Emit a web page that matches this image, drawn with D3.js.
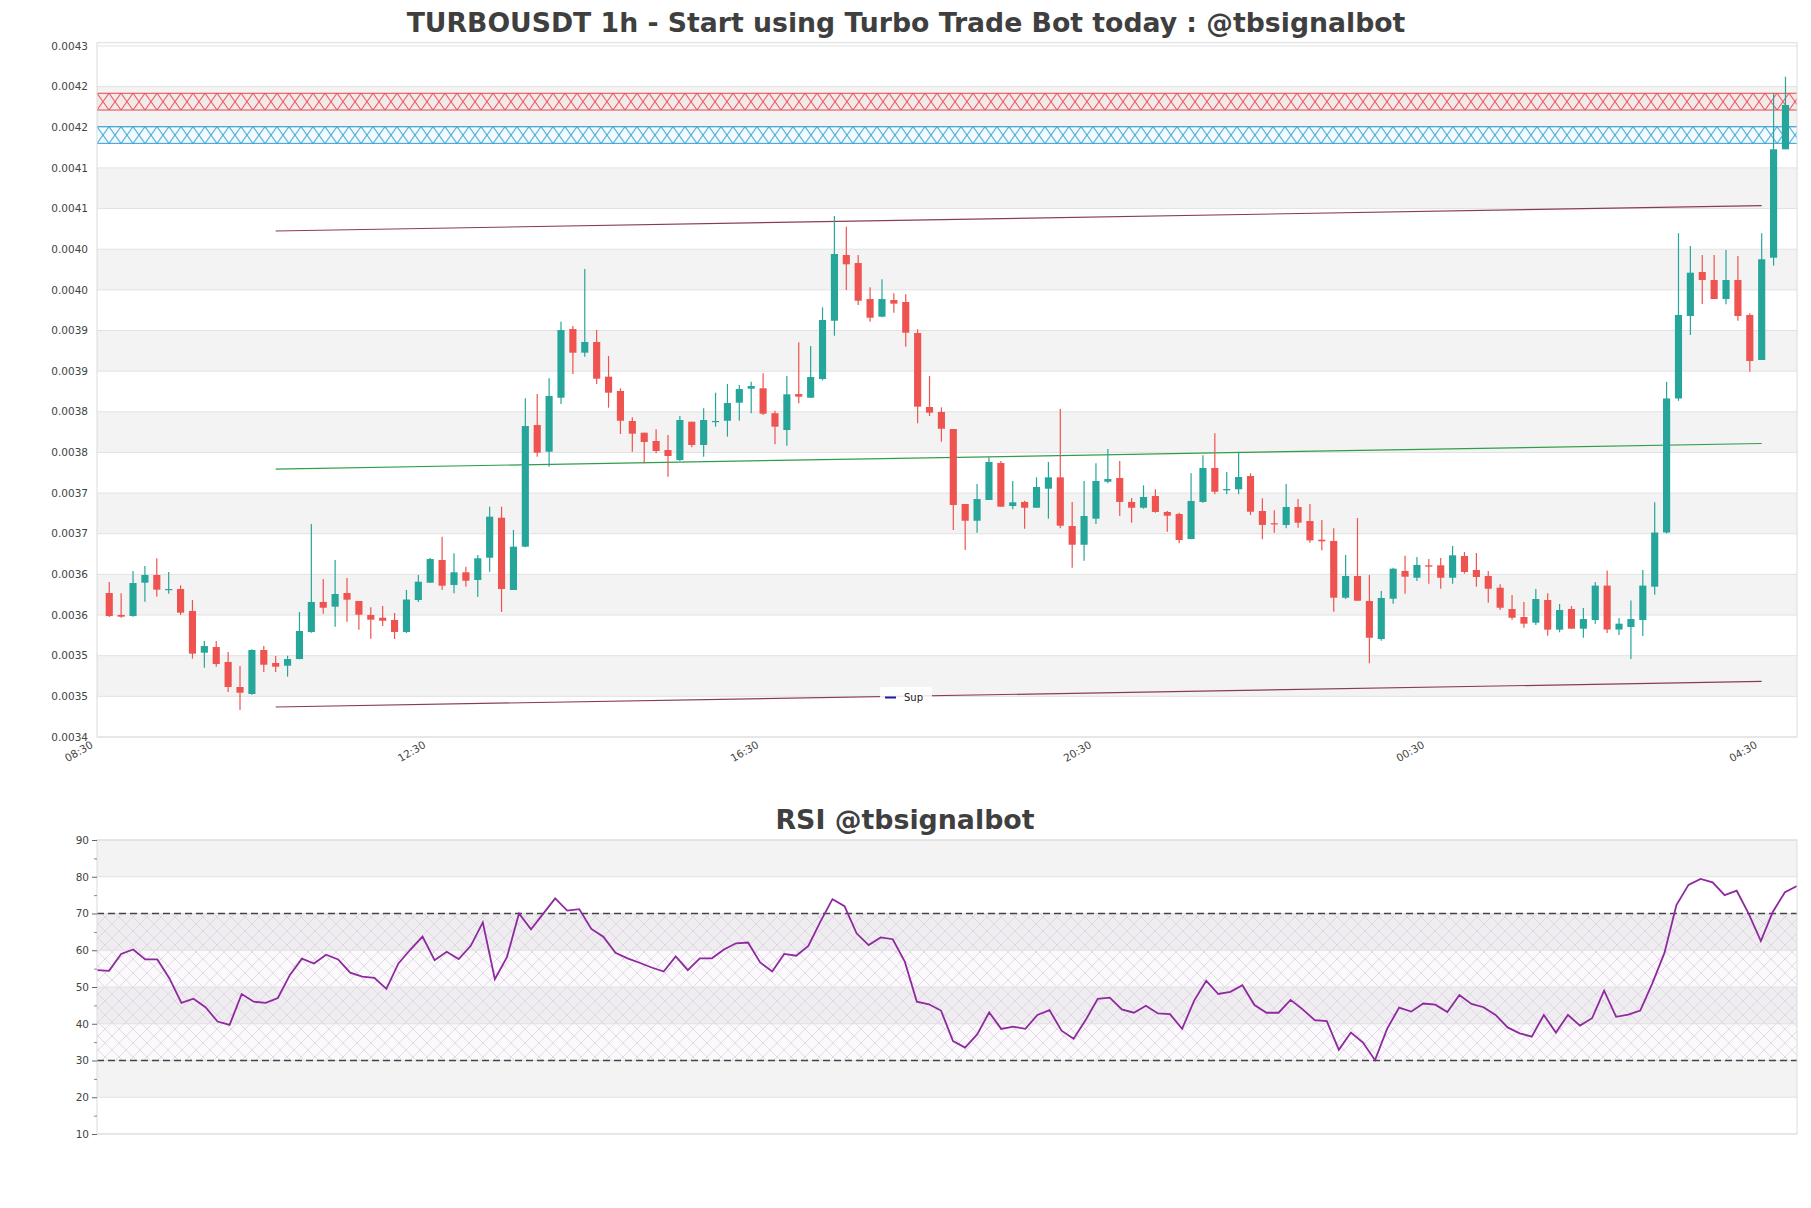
<!DOCTYPE html>
<html><head><meta charset="utf-8">
<script src="https://cdn.jsdelivr.net/npm/d3@7"></script>
<style>body{margin:0;background:#fff;} svg{display:block;font-family:"DejaVu Sans",sans-serif;}</style>
</head><body><svg id="c" width="1811" height="1208"></svg>
<script>
const opens = [0.0035771,0.0035501,0.0035488,0.0035898,0.0035993,0.0035814,0.0035820,0.0035550,0.0035037,0.0035107,
0.0034923,0.0034615,0.0034529,0.0035070,0.0034910,0.0034877,0.0034959,0.0035292,0.0035661,0.0035603,
0.0035771,0.0035673,0.0035501,0.0035467,0.0035439,0.0035292,0.0035685,0.0035898,0.0036177,0.0035870,
0.0036026,0.0035931,0.0036205,0.0036697,0.0035808,0.0036341,0.0037838,0.0037509,0.0038173,0.0039018,
0.0038727,0.0038859,0.0038432,0.0038256,0.0037887,0.0037743,0.0037641,0.0037530,0.0037407,0.0037878,
0.0037592,0.0037875,0.0037890,0.0038112,0.0038284,0.0038289,0.0037982,0.0037776,0.0038219,0.0038173,
0.0038403,0.0039120,0.0039929,0.0039830,0.0039387,0.0039170,0.0039375,0.0039351,0.0038969,0.0038059,
0.0037998,0.0037788,0.0036866,0.0036660,0.0036915,0.0037370,0.0036841,0.0036891,0.0036820,0.0037054,
0.0037194,0.0036595,0.0036365,0.0036685,0.0037140,0.0037186,0.0036891,0.0036820,0.0036964,0.0036768,
0.0036743,0.0036435,0.0036891,0.0037309,0.0037034,0.0037047,0.0037210,0.0036780,0.0036629,0.0036608,
0.0036829,0.0036657,0.0036427,0.0036411,0.0035713,0.0035980,0.0035673,0.0035205,0.0035701,0.0036042,
0.0035959,0.0036112,0.0036112,0.0035959,0.0036226,0.0036054,0.0035980,0.0035836,0.0035574,0.0035476,
0.0035406,0.0035685,0.0035320,0.0035574,0.0035332,0.0035439,0.0035862,0.0035322,0.0035353,0.0035439,
0.0035849,0.0036515,0.0038164,0.0039178,0.0039720,0.0039621,0.0039387,0.0039621,0.0039191,0.0038637,
0.0039895,0.0041229];
const highs = [0.0035907,0.0035768,0.0036042,0.0036103,0.0036198,0.0036030,0.0035866,0.0035685,0.0035181,0.0035181,
0.0035046,0.0034873,0.0035079,0.0035119,0.0034996,0.0035000,0.0035538,0.0036620,0.0035943,0.0036177,
0.0035956,0.0035673,0.0035595,0.0035611,0.0035525,0.0035808,0.0035993,0.0036202,0.0036464,0.0036260,
0.0036095,0.0036239,0.0036833,0.0036833,0.0036546,0.0038166,0.0038219,0.0038412,0.0039108,0.0039055,
0.0039756,0.0039006,0.0038686,0.0038289,0.0037932,0.0037743,0.0037785,0.0037715,0.0037948,0.0037878,
0.0038043,0.0038235,0.0038342,0.0038330,0.0038370,0.0038474,0.0038013,0.0038440,0.0038855,0.0038809,
0.0039285,0.0040408,0.0040277,0.0039929,0.0039531,0.0039630,0.0039458,0.0039445,0.0039015,0.0038440,
0.0038055,0.0037788,0.0036866,0.0037112,0.0037440,0.0037395,0.0037149,0.0036906,0.0037194,0.0037383,
0.0038034,0.0036891,0.0037149,0.0037367,0.0037542,0.0037395,0.0036940,0.0037096,0.0037047,0.0036780,
0.0036759,0.0037244,0.0037465,0.0037736,0.0037260,0.0037509,0.0037244,0.0036936,0.0036788,0.0037112,
0.0036927,0.0036866,0.0036669,0.0036567,0.0036239,0.0036694,0.0035993,0.0035796,0.0036082,0.0036230,
0.0036214,0.0036189,0.0036202,0.0036349,0.0036276,0.0036263,0.0036042,0.0035878,0.0035747,0.0035661,
0.0035820,0.0035768,0.0035636,0.0035611,0.0035587,0.0035907,0.0036047,0.0035464,0.0035678,0.0036054,
0.0036886,0.0038367,0.0040196,0.0040039,0.0039929,0.0039929,0.0039990,0.0039916,0.0039212,0.0040196,
0.0041918,0.0042122];
const lows = [0.0035476,0.0035467,0.0035480,0.0035664,0.0035726,0.0035763,0.0035501,0.0034963,0.0034852,0.0034865,
0.0034554,0.0034332,0.0034520,0.0034800,0.0034800,0.0034742,0.0034956,0.0035283,0.0035517,0.0035357,
0.0035418,0.0035320,0.0035209,0.0035365,0.0035205,0.0035279,0.0035661,0.0035894,0.0035808,0.0035768,
0.0035849,0.0035722,0.0036033,0.0035538,0.0035808,0.0036333,0.0037448,0.0037325,0.0038096,0.0038465,
0.0038678,0.0038342,0.0038050,0.0037727,0.0037509,0.0037366,0.0037490,0.0037202,0.0037395,0.0037563,
0.0037448,0.0037817,0.0037694,0.0037890,0.0037982,0.0037961,0.0037600,0.0037583,0.0038105,0.0038173,
0.0038387,0.0038936,0.0039498,0.0039314,0.0039108,0.0039162,0.0039219,0.0038801,0.0037859,0.0037948,
0.0037632,0.0036546,0.0036300,0.0036513,0.0036915,0.0036833,0.0036801,0.0036562,0.0036820,0.0036685,
0.0036567,0.0036082,0.0036168,0.0036620,0.0037121,0.0036718,0.0036636,0.0036808,0.0036759,0.0036525,
0.0036383,0.0036432,0.0036882,0.0036985,0.0036985,0.0036985,0.0036731,0.0036432,0.0036513,0.0036567,
0.0036574,0.0036390,0.0036296,0.0035541,0.0035697,0.0035676,0.0034907,0.0035184,0.0035640,0.0035763,
0.0035919,0.0035886,0.0035824,0.0035886,0.0036009,0.0035849,0.0035652,0.0035562,0.0035443,0.0035344,
0.0035378,0.0035246,0.0035288,0.0035332,0.0035221,0.0035394,0.0035279,0.0035255,0.0034959,0.0035242,
0.0035749,0.0036502,0.0038135,0.0038945,0.0039326,0.0039387,0.0039322,0.0039120,0.0038493,0.0038637,
0.0039797,0.0041229];
const closes = [0.0035488,0.0035480,0.0035894,0.0035993,0.0035812,0.0035820,0.0035529,0.0035025,0.0035119,0.0034898,
0.0034615,0.0034545,0.0035070,0.0034889,0.0034865,0.0034959,0.0035304,0.0035661,0.0035590,0.0035759,
0.0035689,0.0035504,0.0035443,0.0035430,0.0035292,0.0035691,0.0035910,0.0036189,0.0035861,0.0036026,
0.0035922,0.0036198,0.0036710,0.0035820,0.0036341,0.0037825,0.0037497,0.0038194,0.0039006,0.0038727,
0.0038859,0.0038407,0.0038235,0.0037890,0.0037731,0.0037629,0.0037518,0.0037456,0.0037899,0.0037592,
0.0037899,0.0037887,0.0038108,0.0038280,0.0038317,0.0037977,0.0037817,0.0038215,0.0038186,0.0038428,
0.0039129,0.0039941,0.0039814,0.0039366,0.0039157,0.0039387,0.0039330,0.0038973,0.0038063,0.0037989,
0.0037792,0.0036854,0.0036660,0.0036927,0.0037383,0.0036833,0.0036887,0.0036820,0.0037075,0.0037194,
0.0036599,0.0036365,0.0036718,0.0037149,0.0037173,0.0036891,0.0036820,0.0036952,0.0036768,0.0036722,
0.0036423,0.0036903,0.0037309,0.0037017,0.0037050,0.0037198,0.0036771,0.0036608,0.0036616,0.0036829,
0.0036636,0.0036419,0.0036407,0.0035713,0.0035980,0.0035676,0.0035221,0.0035710,0.0036070,0.0035972,
0.0036116,0.0036095,0.0035959,0.0036235,0.0036030,0.0035968,0.0035824,0.0035590,0.0035467,0.0035394,
0.0035697,0.0035320,0.0035562,0.0035332,0.0035451,0.0035862,0.0035322,0.0035394,0.0035451,0.0035862,
0.0036515,0.0038164,0.0039191,0.0039711,0.0039621,0.0039387,0.0039621,0.0039178,0.0038625,0.0039876,
0.0041229,0.0041774];
const rsi = [54.6,54.4,59.0,60.2,57.5,57.5,52.4,45.7,46.8,44.5,
40.6,39.7,48.1,46.0,45.7,47.0,53.3,57.7,56.4,58.8,
57.5,53.9,52.8,52.5,49.5,56.4,60.2,63.7,57.3,59.6,
57.6,61.2,67.6,52.1,58.1,70.0,65.7,69.9,74.1,70.8,
71.2,65.8,63.7,59.3,57.8,56.6,55.3,54.2,58.3,54.6,
57.8,57.8,60.2,61.9,62.1,56.7,54.2,59.0,58.5,61.2,
67.8,73.9,72.0,64.6,61.4,63.5,63.0,56.9,46.0,45.3,
43.6,35.3,33.5,37.1,43.1,38.6,39.2,38.6,42.4,43.7,
38.1,35.9,41.0,46.8,47.1,43.9,43.0,44.9,42.8,42.6,
38.6,46.3,51.7,48.1,48.7,50.5,45.1,43.0,43.0,46.5,
43.9,41.0,40.7,32.9,37.6,34.9,30.1,38.6,44.4,43.3,
45.5,45.2,43.2,47.8,45.4,44.5,42.4,39.0,37.4,36.5,
42.4,37.6,42.4,39.5,41.5,49.0,41.9,42.5,43.6,51.0,
59.2,72.3,77.8,79.4,78.5,75.0,76.2,69.9,62.5,70.5,
75.8,77.5];
const yTickValues = [0.0034,0.00345,0.0035,0.00355,0.0036,0.00365,0.0037,0.00375,0.0038,0.00385,0.0039,0.00395,0.004,0.00405,0.0041,0.00415,0.0042,0.00425];
const yTickLabels = ["0.0034","0.0035","0.0035","0.0036","0.0036","0.0037","0.0037","0.0038","0.0038","0.0039","0.0039","0.0040","0.0040","0.0041","0.0041","0.0042","0.0042","0.0043"];
const xTickIndex = [-1.3, 26.7, 54.7, 82.7, 110.7, 138.7];
const xTickLabels = ["08:30","12:30","16:30","20:30","00:30","04:30"];
const resistanceZone = [0.0041712, 0.0041918];
const supportZone = [0.0041302, 0.0041507];
const trendUpper = [[14, 0.0040224],[139, 0.0040536]];
const trendMid = [[14, 0.0037296],[139, 0.0037610]];
const trendLower = [[14, 0.0034369],[139, 0.0034683]];
const rsiTicks = [10,20,30,40,50,60,70,80,90];
const rsiMinorTicks = [15,25,35,45,55,65,75,85];
const rsiLevels = [30,70];

const svg = d3.select("#c");
const defs = svg.append("defs");
function hatch(id, color, w, h, sw, bg){
  const p = defs.append("pattern").attr("id", id).attr("patternUnits","userSpaceOnUse")
    .attr("width", w).attr("height", h);
  if (bg) p.append("rect").attr("width", w).attr("height", h).attr("fill", bg);
  p.append("path").attr("d", `M0,0L${w},${h}M0,${h}L${w},0`)
    .attr("stroke", color).attr("stroke-width", sw).attr("fill","none");
}
const MAIN = {left:97, right:1797, top:42.7, bottom:737};
const x = d3.scaleLinear().domain([-1.03, 141.97]).range([MAIN.left, MAIN.right]);
const y = d3.scaleLinear().domain([0.0034, 0.004254]).range([MAIN.bottom, MAIN.top]);

// title
svg.append("text").attr("x", 906).attr("y", 32).attr("text-anchor","middle")
  .attr("font-size", 26.7).attr("font-weight","bold").attr("fill","#3f3f3f")
  .text("TURBOUSDT 1h - Start using Turbo Trade Bot today : @tbsignalbot");

const gm = svg.append("g");
for (let k = 0; k < yTickValues.length - 1; k++) {
  if (k % 2 === 1) {
    gm.append("rect").attr("x", MAIN.left).attr("width", MAIN.right - MAIN.left)
      .attr("y", y(yTickValues[k+1])).attr("height", y(yTickValues[k]) - y(yTickValues[k+1]))
      .attr("fill", "#f3f3f3");
  }
}
gm.selectAll("line.grid").data(yTickValues).join("line").attr("class","grid")
  .attr("x1", MAIN.left).attr("x2", MAIN.right).attr("y1", d => y(d)).attr("y2", d => y(d))
  .attr("stroke", "#e2e2e2").attr("stroke-width", 1);

// zones
const zh = Math.abs(y(resistanceZone[0]) - y(resistanceZone[1]));
hatch("hr", "#e8474c", 12, zh, 1, null);
hatch("hb", "#2a9fd8", 12, zh, 1, null);
[[resistanceZone, "#e8474c", "hr"], [supportZone, "#2a9fd8", "hb"]].forEach(([z, c, id]) => {
  const g = gm.append("g");
  g.append("rect").attr("x", MAIN.left).attr("width", MAIN.right - MAIN.left)
    .attr("y", y(z[1])).attr("height", y(z[0]) - y(z[1])).attr("fill", c).attr("fill-opacity", 0.05);
  defs.select("#" + id).attr("y", y(z[1])).attr("x", MAIN.left);
  g.append("rect").attr("x", MAIN.left).attr("width", MAIN.right - MAIN.left)
    .attr("y", y(z[1])).attr("height", y(z[0]) - y(z[1])).attr("fill", `url(#${id})`);
  g.selectAll("line").data(z).join("line").attr("x1", MAIN.left).attr("x2", MAIN.right)
    .attr("y1", d => y(d)).attr("y2", d => y(d)).attr("stroke", c).attr("stroke-width", 1);
});

// trend lines
const line = d3.line().x(d => x(d[0])).y(d => y(d[1]));
gm.append("path").datum(trendUpper).attr("d", line).attr("stroke", "#8a3d52").attr("stroke-width", 1.2).attr("fill","none");
gm.append("path").datum(trendMid).attr("d", line).attr("stroke", "#2f9e4a").attr("stroke-width", 1.2).attr("fill","none");
gm.append("path").datum(trendLower).attr("d", line).attr("stroke", "#8a3d52").attr("stroke-width", 1.2).attr("fill","none");

// candles
const idx = d3.range(opens.length);
const bw = (x(1) - x(0)) * 0.6;
const up = i => closes[i] >= opens[i];
const col = i => up(i) ? "#26a69a" : "#ef5350";
gm.selectAll("line.wick").data(idx).join("line").attr("class","wick")
  .attr("x1", i => x(i)).attr("x2", i => x(i)).attr("y1", i => y(highs[i])).attr("y2", i => y(lows[i]))
  .attr("stroke", col).attr("stroke-width", 1.2);
gm.selectAll("rect.body").data(idx).join("rect").attr("class","body")
  .attr("x", i => x(i) - bw/2).attr("width", bw)
  .attr("y", i => y(Math.max(opens[i], closes[i])))
  .attr("height", i => Math.max(1.2, Math.abs(y(opens[i]) - y(closes[i]))))
  .attr("fill", col);

gm.append("rect").attr("x", MAIN.left).attr("y", MAIN.top).attr("width", MAIN.right - MAIN.left)
  .attr("height", MAIN.bottom - MAIN.top).attr("fill","none").attr("stroke","#dcdcdc");

svg.append("g").selectAll("text").data(yTickValues).join("text")
  .attr("x", 88).attr("y", d => y(d)).attr("dy", "0.35em").attr("text-anchor","end")
  .attr("font-size", 10.5).attr("fill","#444").text((d, i) => yTickLabels[i]);
svg.append("g").selectAll("text").data(xTickIndex).join("text")
  .attr("transform", d => `translate(${x(d)},${MAIN.bottom + 10}) rotate(-30)`)
  .attr("text-anchor","end").attr("font-size", 10.5).attr("fill","#444")
  .text((d, i) => xTickLabels[i]);

// legend
const lg = svg.append("g").attr("transform", `translate(880,687)`);
lg.append("rect").attr("width", 52).attr("height", 19).attr("rx", 2).attr("fill","#fff").attr("fill-opacity",0.85);
lg.append("line").attr("x1", 5).attr("x2", 16).attr("y1", 10.5).attr("y2", 10.5).attr("stroke","#1a1aa6").attr("stroke-width", 2);
lg.append("text").attr("x", 24).attr("y", 10).attr("dy","0.35em").attr("font-size", 10).attr("fill","#222").text("Sup");

// ---------- RSI ----------
const R = {left:97, right:1797, top:840, bottom:1134};
const xr = d3.scaleLinear().domain([0, rsi.length - 1]).range([R.left, R.right]);
const yr = d3.scaleLinear().domain([10, 90]).range([R.bottom, R.top]);
svg.append("text").attr("x", 905).attr("y", 829).attr("text-anchor","middle")
  .attr("font-size", 26.8).attr("font-weight","bold").attr("fill","#3f3f3f").text("RSI @tbsignalbot");
const gr = svg.append("g");
for (let k = 0; k < rsiTicks.length - 1; k++) {
  if (k % 2 === 1) {
    gr.append("rect").attr("x", R.left).attr("width", R.right - R.left)
      .attr("y", yr(rsiTicks[k+1])).attr("height", yr(rsiTicks[k]) - yr(rsiTicks[k+1]))
      .attr("fill", "#f3f3f3");
  }
}
hatch("hrsi", "#d9cde0", 14, 14, 0.7, null);
gr.append("rect").attr("x", R.left).attr("width", R.right - R.left)
  .attr("y", yr(rsiLevels[1])).attr("height", yr(rsiLevels[0]) - yr(rsiLevels[1]))
  .attr("fill", "#c8a0d8").attr("fill-opacity", 0.06);
gr.append("rect").attr("x", R.left).attr("width", R.right - R.left)
  .attr("y", yr(rsiLevels[1])).attr("height", yr(rsiLevels[0]) - yr(rsiLevels[1]))
  .attr("fill", "url(#hrsi)");
gr.selectAll("line.grid").data(rsiTicks).join("line").attr("class","grid")
  .attr("x1", R.left).attr("x2", R.right).attr("y1", d => yr(d)).attr("y2", d => yr(d))
  .attr("stroke", "#e2e2e2");
gr.selectAll("line.lvl").data(rsiLevels).join("line").attr("class","lvl")
  .attr("x1", R.left).attr("x2", R.right).attr("y1", d => yr(d)).attr("y2", d => yr(d))
  .attr("stroke", "#444").attr("stroke-width", 1.3).attr("stroke-dasharray", "7,4");
gr.append("path").datum(rsi).attr("d", d3.line().x((d, i) => xr(i)).y(d => yr(d)))
  .attr("fill","none").attr("stroke","#8e2a9e").attr("stroke-width", 1.8);
gr.append("rect").attr("x", R.left).attr("y", R.top).attr("width", R.right - R.left)
  .attr("height", R.bottom - R.top).attr("fill","none").attr("stroke","#dcdcdc");
const ax = svg.append("g").attr("transform", `translate(${R.left},0)`)
  .call(d3.axisLeft(yr).tickValues(rsiTicks).tickSize(5).tickPadding(3));
ax.select(".domain").remove();
ax.selectAll("text").attr("font-size", 10.5).attr("fill","#444").attr("font-family","DejaVu Sans");
ax.selectAll("line").attr("stroke","#666");
const axm = svg.append("g").attr("transform", `translate(${R.left},0)`)
  .call(d3.axisLeft(yr).tickValues(rsiMinorTicks).tickSize(3).tickFormat(""));
axm.select(".domain").remove();
axm.selectAll("line").attr("stroke","#888");
</script></body></html>
